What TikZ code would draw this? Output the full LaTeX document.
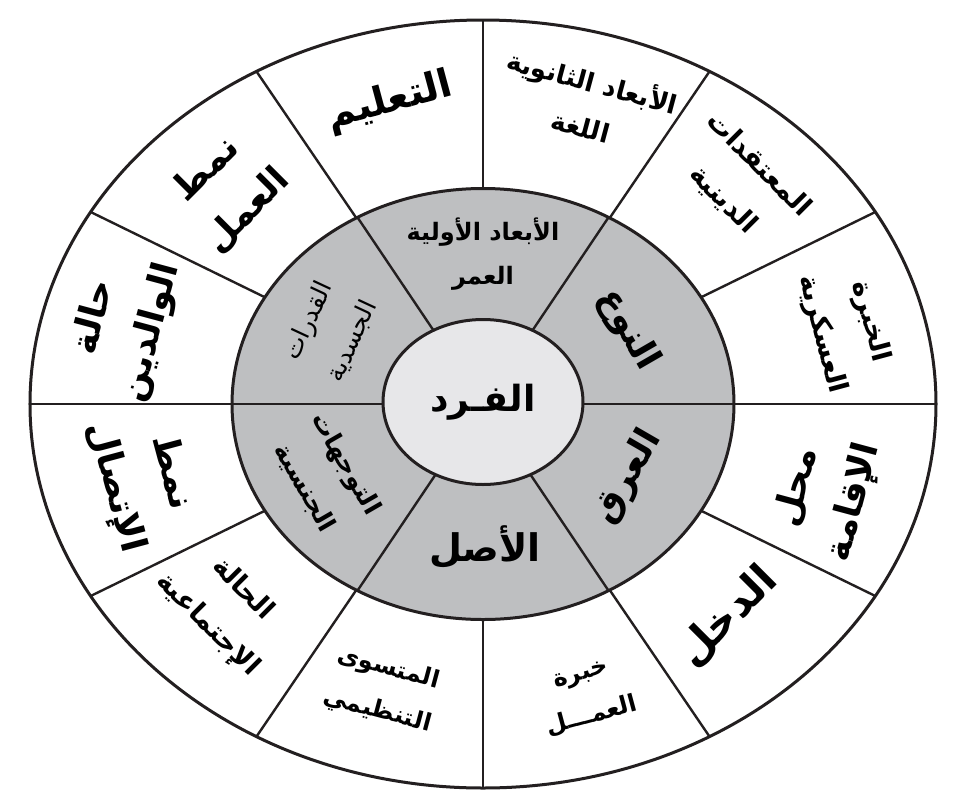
\documentclass[tikz,border=0pt]{standalone}
\usepackage{fontspec}
\usepackage{tikz}
\usetikzlibrary{shapes.geometric}
\TeXXeTstate=1
\newfontfamily\arabicfont[Script=Arabic]{DejaVu Sans}
\newcommand{\artxt}[1]{\beginR #1\endR}
\definecolor{ringgray}{RGB}{190,191,193}
\definecolor{coregray}{RGB}{231,231,233}
\definecolor{inkline}{RGB}{35,31,32}

\tikzset{
  rim/.style={ellipse, draw=inkline, line width=3pt, inner sep=0pt},
  spoke/.style={draw=inkline, line width=2.4pt},
  bigword/.style={font=\arabicfont\bfseries\fontsize{36}{58}\selectfont, align=center, inner sep=0pt},
  midword/.style={font=\arabicfont\bfseries\fontsize{27}{50}\selectfont, align=center, inner sep=0pt},
  smallword/.style={font=\arabicfont\bfseries\fontsize{24}{44}\selectfont, align=center, inner sep=0pt}
}

\begin{document}
\begin{tikzpicture}[x=1pt, y=1pt]
\useasboundingbox (-483,-403) rectangle (480,404);

% outer ring
\node (wheel)[rim, fill=white, minimum width=906pt, minimum height=768pt] at (0,0) {};
\foreach \a in {0,30,...,330}
  \draw[spoke] (0,0) -- ({453*cos(\a)},{384*sin(\a)});

% gray ring
\node (ring)[rim, fill=ringgray, minimum width=502pt, minimum height=431pt] at (0,0) {};
\foreach \a in {0,60,...,300}
  \draw[spoke] (0,0) -- ({251*cos(\a)},{215.5*sin(\a)});

% core
\node (fard)[rim, fill=coregray, minimum width=200pt, minimum height=165pt, font=\arabicfont\bfseries\fontsize{36}{40}\selectfont] at (0,2) {\artxt{الفـرد}};

% primary dimensions
\node (umr)[smallword] at (0,150) {\artxt{الأبعاد الأولية}\\\artxt{العمر}};
\node (naw)[bigword] at (145,74) [rotate=-60] {\artxt{النوع}};
\node (irq)[bigword, rotate=60] at (145,-73) {\artxt{العرق}};
\node (asl)[bigword, font=\arabicfont\bfseries\fontsize{38}{44}\selectfont] at (2,-143) {\artxt{الأصل}};
\node (tawajuhat)[midword, font=\arabicfont\bfseries\fontsize{25}{48}\selectfont, rotate=-60] at (-158,-72) {\artxt{التوجهات}\\\artxt{الجنسية}};
\node (qudurat)[smallword, font=\arabicfont\fontsize{25}{48}\selectfont, rotate=65] at (-153,73) {\artxt{القدرات}\\\artxt{الجسدية}};

% secondary dimensions
\node (taalim)[bigword, font=\arabicfont\bfseries\fontsize{39}{44}\selectfont, rotate=15] at (-93,302) {\artxt{التعليم}};
\node (lugha)[smallword, font=\arabicfont\bfseries\fontsize{26}{46}\selectfont, rotate=-15] at (104,302) {\artxt{الأبعاد الثانوية}\\\artxt{اللغة}};
\node (muataqadat)[midword, rotate=-45] at (258,222) {\artxt{المعتقدات}\\\artxt{الدينية}};
\node (askariya)[midword, rotate=-75] at (363,76) {\artxt{الخبرة}\\\artxt{العسكرية}};
\node (iqama)[bigword, rotate=75] at (343,-91) {\artxt{محل}\\\artxt{الإقامة}};
\node (dakhl)[bigword, font=\arabicfont\bfseries\fontsize{42}{44}\selectfont, rotate=45] at (245,-213) {\artxt{الدخل}};
\node (khibra)[smallword, rotate=15] at (104,-293) {\artxt{خبرة}\\\artxt{العمـــل}};
\node (mustawa)[smallword, rotate=-15] at (-100,-286) {\artxt{المتسوى}\\\artxt{التنظيمي}};
\node (hala)[midword, rotate=-45] at (-258,-203) {\artxt{الحالة}\\\artxt{الإجتماعية}};
\node (ittisal)[bigword, rotate=-75] at (-340,-76) {\artxt{نمط}\\\artxt{الإتصال}};
\node (walidain)[bigword, rotate=75] at (-360,79) {\artxt{حالة}\\\artxt{الوالدين}};
\node (namat)[bigword, rotate=45] at (-256,214) {\artxt{نمط}\\\artxt{العمل}};

\end{tikzpicture}
\end{document}
